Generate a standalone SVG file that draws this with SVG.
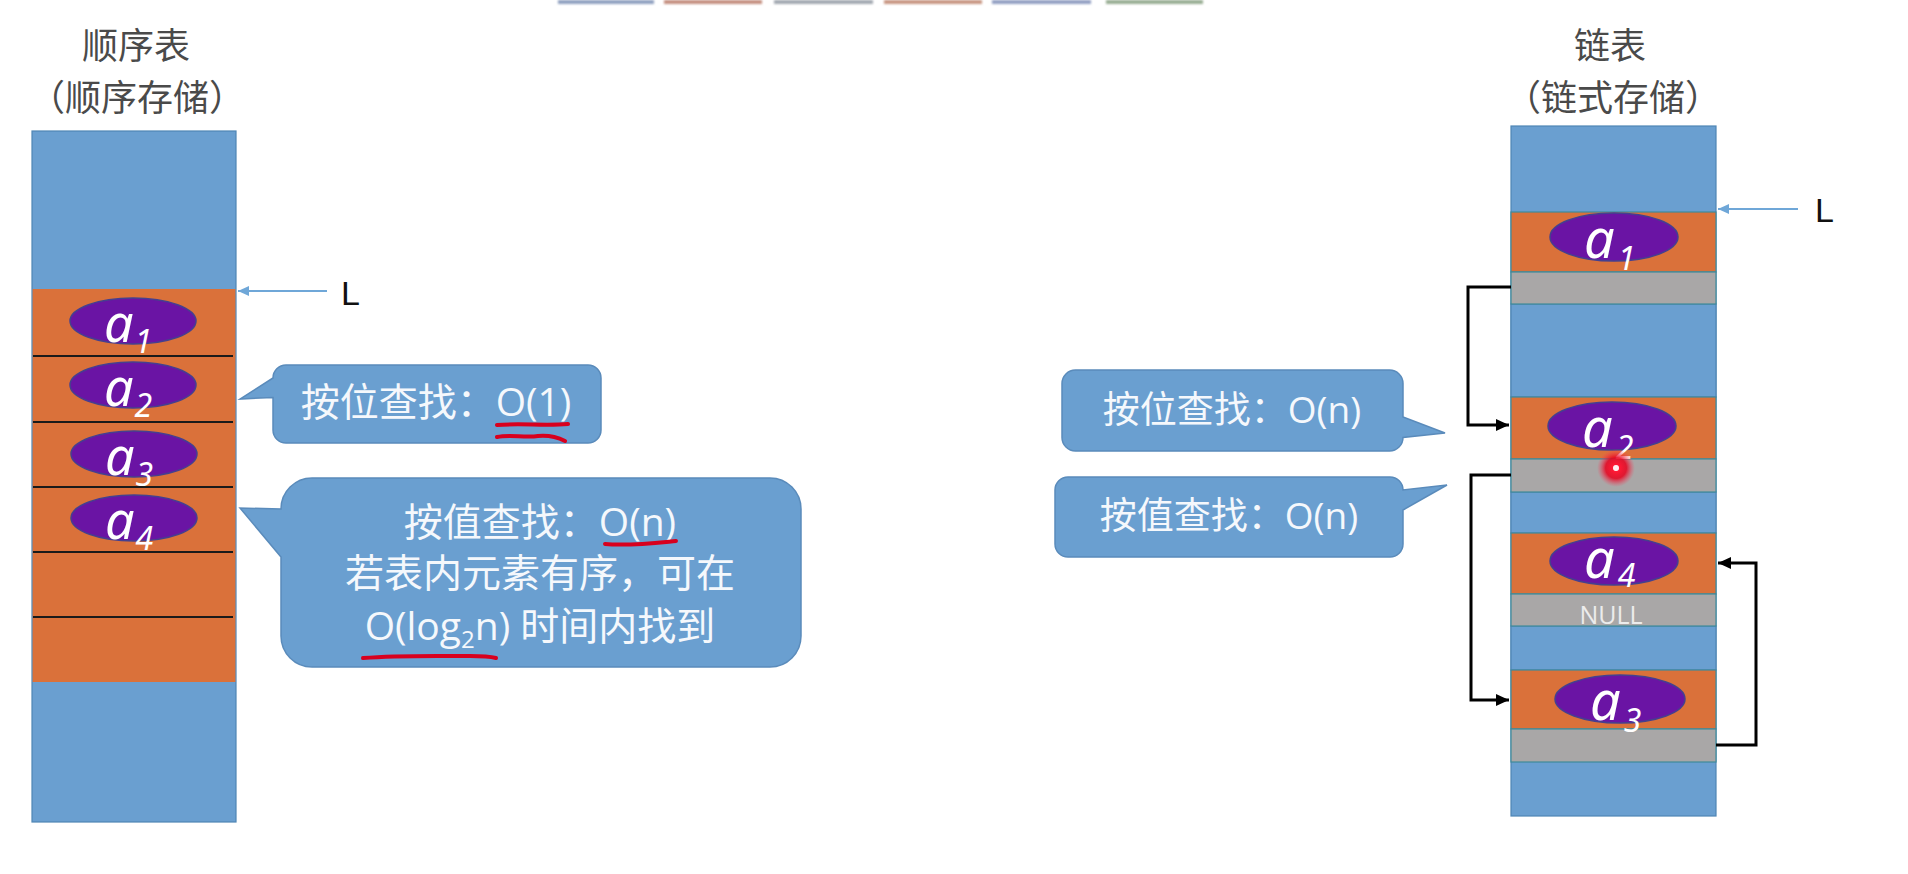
<svg xmlns="http://www.w3.org/2000/svg" width="1908" height="874" viewBox="0 0 1908 874">
<style>
  .title { font-family: "Noto Sans CJK SC", sans-serif; font-size: 36px; fill: #4a4a4a; text-anchor: middle; }
  .blue { fill: #6A9FD0; stroke: #4F86B5; stroke-width: 1.2; }
  .orange { fill: #DA713A; stroke: #3F8A9A; stroke-width: 1.2; }
  .orangeL { fill: #DA713A; }
  .gray { fill: #A9A7A7; stroke: #3F8A9A; stroke-width: 1.2; }
  .sep { stroke: #1a1a1a; stroke-width: 2; }
  .ell { fill: #6A14A4; stroke: #45408F; stroke-width: 1.5; }
  .av { font-family: "Noto Sans", "Open Sans", sans-serif; font-style: italic; font-size: 52px; fill: #ffffff; }
  .avR { font-size: 54px; }
  .sub { font-size: 32px; }
  .callout { fill: #6A9FD0; stroke: #5A8BBB; stroke-width: 1.5; }
  .ct { font-family: "Open Sans", "Noto Sans CJK SC", sans-serif; fill: #f5f8fc; text-anchor: middle; }
  .ctL { font-size: 39px; }
  .ctR { font-size: 37px; }
  .red { fill: none; stroke: #D8001E; stroke-width: 4; stroke-linecap: round; stroke-linejoin: round; }
  .link { fill: none; stroke: #000000; stroke-width: 3; }
  .larrow { fill: none; stroke: #6FA7D8; stroke-width: 2; }
  .ltext { font-family: "Liberation Sans", Arial, sans-serif; font-size: 34px; fill: #111111; }
  .null { font-family: "Open Sans", "Liberation Sans", sans-serif; font-size: 25px; fill: #ececec; text-anchor: middle; }
</style>
<defs>
  <marker id="arrowK" markerUnits="userSpaceOnUse" markerWidth="14" markerHeight="14" refX="13" refY="7" orient="auto">
    <path d="M0,1 L13,7 L0,13 Z" fill="#000"/>
  </marker>
  <marker id="arrowB" markerUnits="userSpaceOnUse" markerWidth="12" markerHeight="12" refX="11" refY="6" orient="auto">
    <path d="M0,1 L11,6 L0,11 Z" fill="#6FA7D8"/>
  </marker>
  <radialGradient id="laser" cx="0.5" cy="0.5" r="0.5">
    <stop offset="0" stop-color="#ffd8e0"/>
    <stop offset="0.18" stop-color="#ff1a36"/>
    <stop offset="0.55" stop-color="#e8001c" stop-opacity="0.85"/>
    <stop offset="1" stop-color="#ff4060" stop-opacity="0"/>
  </radialGradient>
  <filter id="soft" x="-20%" y="-100%" width="140%" height="400%">
    <feGaussianBlur stdDeviation="1"/>
  </filter>
</defs>

<rect width="1908" height="874" fill="#ffffff"/>

<!-- top toolbar fragments -->
<g id="toolbar" filter="url(#soft)">
  <rect x="558" y="0" width="96" height="4" fill="#8fa0c0"/>
  <rect x="664" y="0" width="98" height="4" fill="#c58f80"/>
  <rect x="774" y="0" width="99" height="4" fill="#a2a8b0"/>
  <rect x="884" y="0" width="98" height="4" fill="#c89682"/>
  <rect x="992" y="0" width="99" height="4" fill="#929fc2"/>
  <rect x="1106" y="0" width="97" height="4" fill="#98ad93"/>
</g>

<!-- ===== Left: sequential list ===== -->
<g id="seq-title">
  <text class="title" x="136" y="59">顺序表</text>
  <text class="title" x="137" y="111">（顺序存储）</text>
</g>

<g id="seq-array">
  <rect class="blue" x="32" y="131" width="204" height="691"/>
  <rect class="orangeL" x="32.6" y="289" width="202.8" height="393"/>
  <line class="sep" x1="33" y1="356" x2="233" y2="356"/>
  <line class="sep" x1="33" y1="422" x2="233" y2="422"/>
  <line class="sep" x1="33" y1="487" x2="233" y2="487"/>
  <line class="sep" x1="33" y1="552" x2="233" y2="552"/>
  <line class="sep" x1="33" y1="617" x2="233" y2="617"/>
</g>

<g id="seq-a1">
  <ellipse class="ell" cx="133" cy="321" rx="63" ry="23"/>
  <text class="av" x="104" y="342">a<tspan class="sub" dx="1" dy="11">1</tspan></text>
</g>
<g id="seq-a2">
  <ellipse class="ell" cx="133" cy="385" rx="63" ry="23"/>
  <text class="av" x="104" y="406">a<tspan class="sub" dx="1" dy="11">2</tspan></text>
</g>
<g id="seq-a3">
  <ellipse class="ell" cx="134" cy="454" rx="63" ry="23"/>
  <text class="av" x="105" y="475">a<tspan class="sub" dx="1" dy="11">3</tspan></text>
</g>
<g id="seq-a4">
  <ellipse class="ell" cx="134" cy="518" rx="63" ry="23"/>
  <text class="av" x="105" y="539">a<tspan class="sub" dx="1" dy="11">4</tspan></text>
</g>

<g id="seq-L">
  <line class="larrow" x1="327" y1="291" x2="238" y2="291" marker-end="url(#arrowB)"/>
  <text class="ltext" x="341" y="305">L</text>
</g>

<g id="seq-callout-pos">
  <path class="callout" d="M286,365 H588 A13,13 0 0 1 601,378 V430 A13,13 0 0 1 588,443 H286 A13,13 0 0 1 273,430 V397.5 L240,399 L273,378 A13,13 0 0 1 286,365 Z"/>
  <text class="ct ctL" x="436" y="416">按位查找：O(1)</text>
  <path class="red" d="M497,425 C520,423 545,426 568,424"/>
  <path class="red" d="M497,437 C510,434 524,438 538,436 C549,435 557,437 565,441"/>
</g>

<g id="seq-callout-val">
  <path class="callout" d="M312,478 H770 A31,31 0 0 1 801,509 V636 A31,31 0 0 1 770,667 H312 A31,31 0 0 1 281,636 V557 L240,508 L281,509 A31,31 0 0 1 312,478 Z"/>
  <text class="ct ctL" x="540" y="536">按值查找：O(n)</text>
  <text class="ct ctL" x="540" y="587">若表内元素有序，可在</text>
  <text class="ct ctL" x="540" y="640">O(log<tspan font-size="24" dy="8">2</tspan><tspan dy="-8">n) 时间内找到</tspan></text>
  <path class="red" d="M605,544 C630,546 655,543 676,541"/>
  <path class="red" d="M363,658 C400,655 440,656 470,656 C485,656 492,657 496,658"/>
</g>

<!-- ===== Right: linked list ===== -->
<g id="link-title">
  <text class="title" x="1610" y="59">链表</text>
  <text class="title" x="1613" y="111">（链式存储）</text>
</g>

<g id="link-memory">
  <rect class="blue" x="1511" y="126" width="205" height="690"/>
  <rect class="blue" x="1511" y="304" width="205" height="93"/>
  <rect class="blue" x="1511" y="492" width="205" height="41"/>
  <rect class="blue" x="1511" y="626" width="205" height="44"/>
</g>

<g id="link-a1">
  <rect class="orange" x="1511" y="212" width="205" height="60"/>
  <rect class="gray" x="1511" y="272" width="205" height="32"/>
  <ellipse class="ell" cx="1614" cy="237" rx="64" ry="24"/>
  <text class="av avR" x="1584" y="258">a<tspan class="sub" dx="3" dy="12">1</tspan></text>
</g>
<g id="link-a2">
  <rect class="orange" x="1511" y="397" width="205" height="62"/>
  <rect class="gray" x="1511" y="459" width="205" height="33"/>
  <ellipse class="ell" cx="1612" cy="426" rx="64" ry="24"/>
  <text class="av avR" x="1582" y="447">a<tspan class="sub" dx="3" dy="12">2</tspan></text>
</g>
<g id="link-a4">
  <rect class="orange" x="1511" y="533" width="205" height="61"/>
  <rect class="gray" x="1511" y="594" width="205" height="32"/>
  <ellipse class="ell" cx="1614" cy="561" rx="64" ry="24"/>
  <text class="av avR" x="1584" y="578">a<tspan class="sub" dx="3" dy="9">4</tspan></text>
  <text class="null" x="1611" y="624">NULL</text>
</g>
<g id="link-a3">
  <rect class="orange" x="1511" y="670" width="205" height="59"/>
  <rect class="gray" x="1511" y="729" width="205" height="33"/>
  <ellipse class="ell" cx="1620" cy="699" rx="65" ry="24"/>
  <text class="av avR" x="1590" y="720">a<tspan class="sub" dx="3" dy="12">3</tspan></text>
</g>

<g id="link-L">
  <line class="larrow" x1="1798" y1="209" x2="1718" y2="209" marker-end="url(#arrowB)"/>
  <text class="ltext" x="1815" y="222">L</text>
</g>

<g id="connectors">
  <path class="link" d="M1511,287 H1468 V425 H1509" marker-end="url(#arrowK)"/>
  <path class="link" d="M1511,475 H1471 V700 H1509" marker-end="url(#arrowK)"/>
  <path class="link" d="M1716,745 H1756 V563 H1718" marker-end="url(#arrowK)"/>
</g>

<g id="link-callout-pos">
  <path class="callout" d="M1075.5,370 H1389.5 A13.5,13.5 0 0 1 1403,383.5 V417 L1445,433 L1403,437.5 A13.5,13.5 0 0 1 1389.5,451 H1075.5 A13.5,13.5 0 0 1 1062,437.5 V383.5 A13.5,13.5 0 0 1 1075.5,370 Z"/>
  <text class="ct ctR" x="1232" y="423">按位查找：O(n)</text>
</g>
<g id="link-callout-val">
  <path class="callout" d="M1068,477 H1390 A13,13 0 0 1 1403,490 L1447,485 L1403,510 V544 A13,13 0 0 1 1390,557 H1068 A13,13 0 0 1 1055,544 V490 A13,13 0 0 1 1068,477 Z"/>
  <text class="ct ctR" x="1229" y="529">按值查找：O(n)</text>
</g>

<g id="laser-dot">
  <circle cx="1616" cy="468" r="19" fill="url(#laser)"/>
  <circle cx="1616" cy="468" r="3" fill="#fff0f2"/>
</g>
</svg>
